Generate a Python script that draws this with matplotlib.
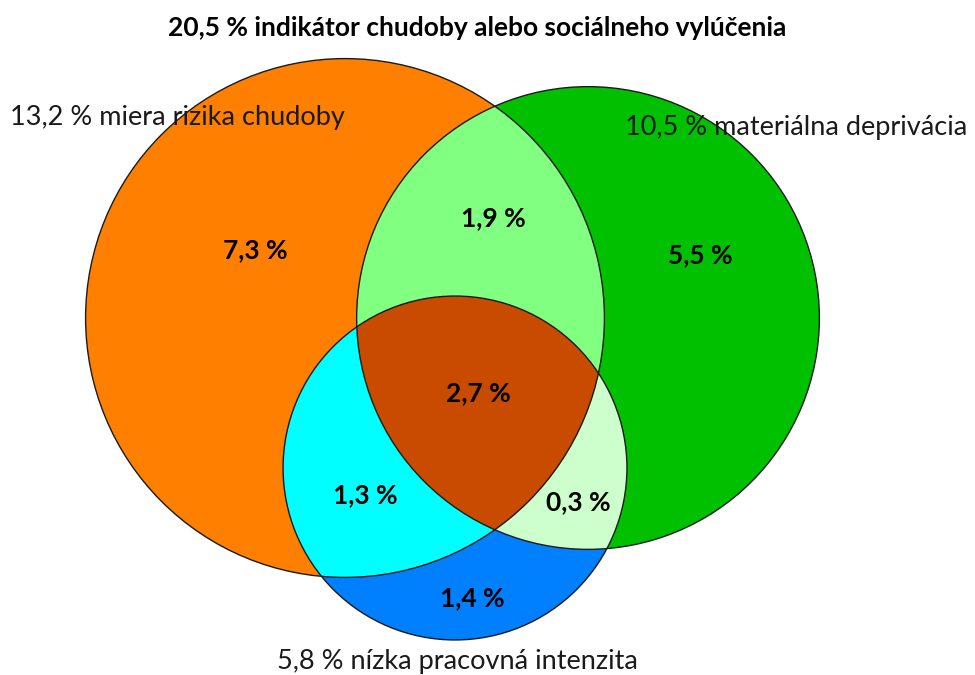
import numpy as np
import matplotlib.pyplot as plt
from matplotlib.patches import Circle, Polygon

plt.rcParams['font.family'] = ['Lato', 'DejaVu Sans']

title = "20,5 % indikátor chudoby alebo sociálneho vylúčenia"

# sets: poverty risk, material deprivation, low work intensity
set_names = ["miera rizika chudoby", "materiálna deprivácia", "nízka pracovná intenzita"]
set_values = [13.2, 10.5, 5.8]

# region shares
only_values = [7.3, 5.5, 1.4]          # A only, B only, C only
pair_values = [1.9, 1.3, 0.3]          # A&B, A&C, B&C
triple_value = 2.7

# layout (pixel coords, y down)
centers = [(345, 318), (588, 318), (455, 468)]
scale = 71.4
base_colors = ["#FF8000", "#00C000", "#0080FF"]
pair_colors = ["#80FF80", "#00FFFF", "#CCFFCC"]
triple_color = "#C84B00"


def fmt(v):
    return f"{v:.1f}".replace(".", ",") + " %"


def intersection_polygon(idx, radii):
    # intersection of convex discs: boundary points inside all others, sorted by angle
    t = np.linspace(0, 2 * np.pi, 2000, endpoint=False)
    pts = []
    for i in idx:
        cx, cy = centers[i]
        p = np.column_stack([cx + radii[i] * np.cos(t), cy + radii[i] * np.sin(t)])
        keep = np.ones(len(p), bool)
        for j in idx:
            if j == i:
                continue
            d = np.hypot(p[:, 0] - centers[j][0], p[:, 1] - centers[j][1])
            keep &= d <= radii[j] + 1e-6
        pts.append(p[keep])
    pts = np.vstack(pts)
    m = pts.mean(axis=0)
    ang = np.arctan2(pts[:, 1] - m[1], pts[:, 0] - m[0])
    return pts[np.argsort(ang)]


radii = [scale * np.sqrt(v) for v in set_values]

fig = plt.figure(figsize=(9.75, 6.75), dpi=100)
ax = fig.add_axes([0, 0, 1, 1])
ax.set_xlim(0, 975)
ax.set_ylim(675, 0)
ax.set_aspect('equal')
ax.axis('off')

for c, r, col in zip(centers, radii, base_colors):
    ax.add_patch(Circle(c, r, facecolor=col, edgecolor='none', zorder=1))

pairs = [(0, 1), (0, 2), (1, 2)]
for pr, col in zip(pairs, pair_colors):
    ax.add_patch(Polygon(intersection_polygon(pr, radii), closed=True,
                         facecolor=col, edgecolor='none', zorder=2))
ax.add_patch(Polygon(intersection_polygon((0, 1, 2), radii), closed=True,
                     facecolor=triple_color, edgecolor='none', zorder=3))

for c, r in zip(centers, radii):
    ax.add_patch(Circle(c, r, facecolor='none', edgecolor='#1a1a1a', lw=1.0, zorder=4))

# region labels
only_pos = [(255, 250), (700, 255), (472, 598)]
pair_pos = [(493, 218), (365, 495), (578, 502)]
triple_pos = (478, 393)
lab = dict(ha='center', va='center', fontsize=19, fontweight='bold', color='black', zorder=5)
for v, p in zip(only_values, only_pos):
    ax.text(p[0], p[1], fmt(v), **lab)
for v, p in zip(pair_values, pair_pos):
    ax.text(p[0], p[1], fmt(v), **lab)
ax.text(triple_pos[0], triple_pos[1], fmt(triple_value), **lab)

# set labels
ax.text(10, 118, f"{fmt(set_values[0])} {set_names[0]}", ha='left', va='center',
        fontsize=19.5, color='#1a1a1a', zorder=5)
ax.text(625, 128, f"{fmt(set_values[1])} {set_names[1]}", ha='left', va='center',
        fontsize=19.5, color='#1a1a1a', zorder=5)
ax.text(457, 662, f"{fmt(set_values[2])} {set_names[2]}", ha='center', va='center',
        fontsize=19.5, color='#1a1a1a', zorder=5)

ax.text(477, 28, title, ha='center', va='center', fontsize=19, fontweight='bold', zorder=5)

fig.savefig("out.png", dpi=100)
